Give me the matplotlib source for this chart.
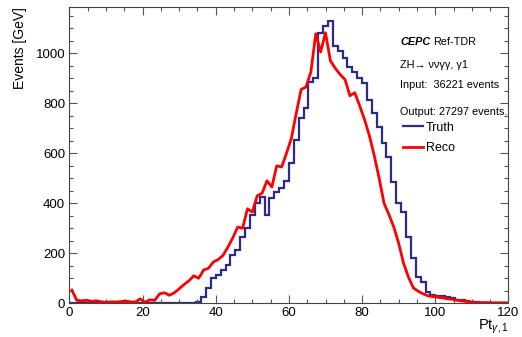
import matplotlib
matplotlib.use("Agg")
import matplotlib.pyplot as plt
import numpy as np
from matplotlib.ticker import MultipleLocator

plt.rcParams['font.family'] = ['Liberation Sans', 'DejaVu Sans']
plt.rcParams['mathtext.fontset'] = 'custom'
plt.rcParams['mathtext.rm'] = 'Liberation Sans'
plt.rcParams['mathtext.it'] = 'Liberation Sans:italic'

# 90 bins from 0 to 120 GeV
x_min, x_max, n_bins = 0, 120, 90
edges = np.linspace(x_min, x_max, n_bins + 1)
centers = 0.5 * (edges[:-1] + edges[1:])

# truth histogram contents, bin by bin
truth = [0] * 26 + [
    6, 24, 60, 100, 115, 133, 155, 195, 213, 267,
    300, 353, 400, 427, 355, 420, 445, 460, 490, 560,
    653, 740, 780, 885, 900, 1080, 1107, 1130, 1027, 1007,
    980, 947, 927, 900, 880, 813, 760, 707, 640, 587,
    487, 400, 367, 267, 180, 107, 87, 47, 33, 30,
    28, 25, 22, 12, 12, 8, 5, 4, 2, 1,
    1, 0, 0, 0,
]

# reconstructed values at the bin centres
reco = [
    53, 12, 10, 12, 8, 10, 6, 4, 6, 5,
    7, 9, 6, 5, 18, 4, 14, 12, 38, 42,
    32, 42, 58, 75, 90, 110, 100, 133, 140, 165,
    175, 192, 225, 262, 305, 300, 378, 365, 430, 440,
    490, 465, 550, 545, 600, 660, 760, 855, 865, 925,
    1078, 1005, 1082, 970, 940, 915, 895, 830, 842, 790,
    735, 670, 590, 500, 400, 355, 305, 240, 160, 105,
    62, 48, 38, 30, 27, 24, 22, 18, 16, 12,
    9, 7, 5, 3, 3, 3, 2, 2, 2, 2,
]

fig = plt.figure(figsize=(5.22, 3.37), dpi=100)
ax = fig.add_axes([0.133, 0.100, 0.841, 0.880])

ax.stairs(truth, edges, color='#2b2b8c', lw=1.6, baseline=None)
ax.plot(centers, reco, color='#ff0000', lw=2.0)

ax.set_xlim(x_min, x_max)
ax.set_ylim(0, 1186)

ax.xaxis.set_major_locator(MultipleLocator(20))
ax.xaxis.set_minor_locator(MultipleLocator(5))
ax.yaxis.set_major_locator(MultipleLocator(200))
ax.yaxis.set_minor_locator(MultipleLocator(50))
ax.tick_params(which='both', direction='in', top=True, right=True,
               labeltop=False, labelright=False, color='#555555', width=0.8)
ax.tick_params(which='major', length=6, labelsize=9.5, pad=3)
ax.tick_params(which='minor', length=3)
for s in ax.spines.values():
    s.set_color('#444444')
    s.set_linewidth(0.8)

ax.set_ylabel('Events [GeV]', fontsize=10, loc='top', labelpad=6)
ax.text(1.0, -0.048, r'$\mathrm{Pt}_{\gamma,1}$', transform=ax.transAxes,
        ha='right', va='top', fontsize=10.5)

# annotation block
tx = 0.753
fs = 7.8
ax.text(tx, 0.880, 'CEPC', transform=ax.transAxes, fontsize=fs,
        fontweight='bold', style='italic', va='center')
ax.text(tx + 0.076, 0.880, 'Ref-TDR', transform=ax.transAxes, fontsize=fs,
        va='center')
ax.text(tx, 0.802, 'ZH\u2192 \u03bd\u03bd\u03b3\u03b3, \u03b31', transform=ax.transAxes,
        fontsize=fs, va='center')
ax.text(tx, 0.735, 'Input:  36221 events', transform=ax.transAxes,
        fontsize=fs, va='center')
ax.text(tx, 0.645, 'Output: 27297 events.', transform=ax.transAxes,
        fontsize=fs, va='center')

handles = [plt.Line2D([], [], color='#2b2b8c', lw=1.6),
           plt.Line2D([], [], color='#ff0000', lw=2.0)]
ax.legend(handles=handles, labels=['Truth', 'Reco'],
          loc='upper left', bbox_to_anchor=(0.760, 0.612), frameon=False,
          fontsize=9, handlelength=1.6, handletextpad=0.25, labelspacing=0.68,
          borderaxespad=0, borderpad=0)

fig.savefig('out.png', dpi=100)
